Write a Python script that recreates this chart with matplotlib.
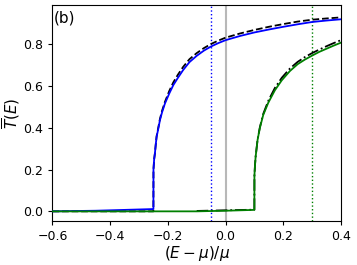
import matplotlib
matplotlib.use('Agg')
import matplotlib.pyplot as plt

# blue solid curve (threshold at -0.25)
blue_x = [-0.6, -0.45, -0.35, -0.2501, -0.2499, -0.2475, -0.2447, -0.242, -0.239, -0.234,
          -0.2274, -0.22, -0.21, -0.195, -0.181, -0.165, -0.147, -0.125, -0.1, -0.075,
          -0.05, -0.025, 0.0, 0.05, 0.1, 0.15, 0.2, 0.25, 0.3, 0.35, 0.4]
blue_y = [0.0, 0.003, 0.007, 0.011, 0.20, 0.25, 0.28, 0.32, 0.357, 0.39,
          0.437, 0.475, 0.517, 0.565, 0.605, 0.64, 0.677, 0.715, 0.745, 0.77,
          0.79, 0.806, 0.82, 0.84, 0.857, 0.871, 0.884, 0.896, 0.907, 0.914, 0.92]

# black dashed approximation of the blue curve
dash_x = [-0.6, -0.2501, -0.2499, -0.2475, -0.2447, -0.242, -0.239, -0.234,
          -0.2274, -0.22, -0.21, -0.195, -0.181, -0.165, -0.147, -0.125, -0.1, -0.075,
          -0.05, -0.025, 0.0, 0.05, 0.1, 0.15, 0.2, 0.25, 0.3, 0.35, 0.4]
dash_y = [0.0, 0.0, 0.20, 0.25, 0.28, 0.32, 0.36, 0.395,
          0.443, 0.482, 0.525, 0.577, 0.618, 0.655, 0.692, 0.729, 0.758, 0.782,
          0.802, 0.818, 0.832, 0.852, 0.869, 0.884, 0.897, 0.909, 0.918, 0.924, 0.929]

# green solid curve (threshold at 0.1)
green_x = [-0.6, -0.1, 0.0, 0.0999, 0.1001, 0.102, 0.1043, 0.111, 0.119, 0.1307,
           0.148, 0.171, 0.195, 0.223, 0.25, 0.275, 0.3, 0.325, 0.35, 0.375, 0.4]
green_y = [0.0, 0.0, 0.003, 0.007, 0.17, 0.22, 0.262, 0.342, 0.40, 0.462,
           0.52, 0.58, 0.628, 0.672, 0.705, 0.727, 0.746, 0.764, 0.779, 0.794, 0.808]

# black dash-dot approximation of the green curve
dd_x = [-0.1, 0.0, 0.0999, 0.1001, 0.102, 0.1043, 0.111, 0.119, 0.1307,
        0.148, 0.171, 0.195, 0.223, 0.25, 0.275, 0.3, 0.325, 0.35, 0.375, 0.4]
dd_y = [0.002, 0.005, 0.008, 0.17, 0.22, 0.262, 0.344, 0.403, 0.467,
        0.529, 0.591, 0.64, 0.684, 0.716, 0.739, 0.758, 0.775, 0.791, 0.806, 0.82]

# vertical marker lines
vlines_x = [-0.05, 0.0, 0.3]
vlines_col = ['blue', '#b8b8b8', 'green']
vlines_ls = [':', '-', ':']

x_ticks = [-0.6, -0.4, -0.2, 0.0, 0.2, 0.4]
y_ticks = [0.0, 0.2, 0.4, 0.6, 0.8]

fig = plt.figure(figsize=(3.57, 2.65), dpi=100)
ax = fig.add_axes([0.147, 0.167, 0.808, 0.813])

for xv, c, ls in zip(vlines_x, vlines_col, vlines_ls):
    ax.axvline(xv, color=c, ls=ls, lw=1.5 if ls == '-' else 1.0, zorder=1)

# black reference curves sit under the coloured ones
ax.plot(dash_x, dash_y, color='black', ls='--', lw=1.3, zorder=2)
ax.plot(dd_x, dd_y, color='black', ls='-.', lw=1.3, zorder=2)
ax.plot(blue_x, blue_y, color='blue', lw=1.3, zorder=3)
ax.plot(green_x, green_y, color='green', lw=1.3, zorder=4)

ax.set_xlim(-0.6, 0.4)
ax.set_ylim(-0.045, 0.987)
ax.set_xticks(x_ticks)
ax.set_yticks(y_ticks)
ax.tick_params(labelsize=9, length=3)
ax.set_xlabel(r'$(E-\mu)/\mu$', fontsize=11, labelpad=1)
ax.set_ylabel(r'$\overline{T}(E)$', fontsize=11, labelpad=1)
ax.text(0.004, 0.975, '(b)', transform=ax.transAxes, fontsize=11, va='top', ha='left')

plt.savefig('out.png', dpi=100)
plt.close()
